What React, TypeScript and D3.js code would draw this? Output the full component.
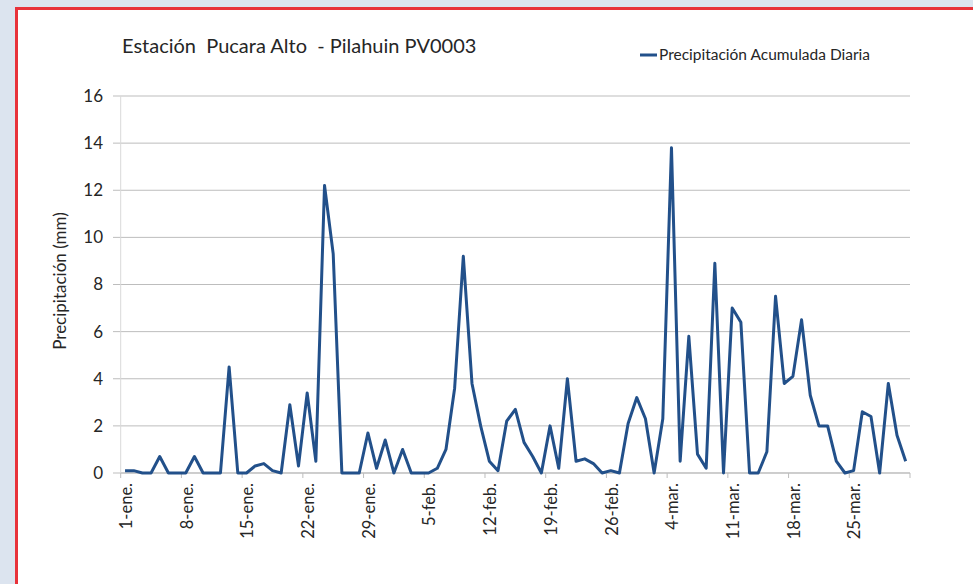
import * as d3 from "d3";

// daily precipitation (mm), 1-ene to 31-mar (2012, leap year)
const startDate = new Date(2012, 0, 1);
const endDate = new Date(2012, 3, 1);
const days = d3.timeDay.range(startDate, endDate);

const precipitation = [
  0.1, 0.1, 0, 0, 0.7, 0, 0, 0, 0.7, 0,
  0, 0, 4.5, 0, 0, 0.3, 0.4, 0.1, 0, 2.9,
  0.3, 3.4, 0.5, 12.2, 9.3, 0, 0, 0, 1.7, 0.2,
  1.4, 0, 1.0, 0, 0, 0, 0.2, 1.0, 3.6, 9.2,
  3.8, 2.0, 0.5, 0.1, 2.2, 2.7, 1.3, 0.7, 0, 2.0,
  0.2, 4.0, 0.5, 0.6, 0.4, 0, 0.1, 0, 2.1, 3.2,
  2.3, 0, 2.3, 13.8, 0.5, 5.8, 0.8, 0.2, 8.9, 0,
  7.0, 6.4, 0, 0, 0.9, 7.5, 3.8, 4.1, 6.5, 3.3,
  2.0, 2.0, 0.5, 0, 0.1, 2.6, 2.4, 0, 3.8, 1.6,
  0.5,
];

const tickLabels = [
  "1-ene.", "8-ene.", "15-ene.", "22-ene.", "29-ene.", "5-feb.", "12-feb.",
  "19-feb.", "26-feb.", "4-mar.", "11-mar.", "18-mar.", "25-mar.",
];
const yTicks = [0, 2, 4, 6, 8, 10, 12, 14, 16];

const title = "Estación  Pucara Alto  - Pilahuin PV0003";
const seriesName = "Precipitación Acumulada Diaria";
const yTitle = "Precipitación (mm)";

export default function App() {
  const width = 973;
  const height = 584;
  const font = "Lato, 'Open Sans', sans-serif";
  const lineColor = "#22508a";
  const gridColor = "#bdbdbd";
  const textColor = "#262626";

  const keys = days.map((d) => d3.timeFormat("%Y-%m-%d")(d));
  const data = keys.map((k, i) => ({ key: k, value: precipitation[i] }));

  const xScale = d3.scaleBand().domain(keys).range([120.7, 910]).padding(0);
  const yScale = d3.scaleLinear().domain([0, 16]).range([473, 96]);

  const cx = (k) => xScale(k) + xScale.bandwidth() / 2;

  const line = d3
    .line()
    .x((d) => cx(d.key))
    .y((d) => yScale(d.value));

  // tick marks every 7 days at band edges, plus the end of the axis
  const tickIdx = d3.range(0, keys.length, 7);

  return (
    <svg
      width={width}
      height={height}
      style={{ position: "absolute", left: 0, top: 0 }}
      fontFamily={font}
    >
      <rect x={0} y={0} width={width} height={height} fill="#dce4ef" />
      <rect x={16.5} y={8.5} width={1000} height={600} fill="#ffffff" stroke="#e8323a" strokeWidth={3} />

      {/* Title */}
      <text x={122} y={53} fontSize={20} fill={textColor} style={{ whiteSpace: "pre" }}>
        {title}
      </text>

      {/* Legend */}
      <line x1={640} x2={657} y1={55} y2={55} stroke={lineColor} strokeWidth={3} />
      <text x={659} y={60} fontSize={15.5} fill={textColor}>
        {seriesName}
      </text>

      {/* Gridlines + y labels */}
      {yTicks.map((t) => (
        <g key={t}>
          <line x1={113} x2={910} y1={yScale(t)} y2={yScale(t)} stroke={gridColor} strokeWidth={1} />
          <text x={103} y={yScale(t)} dy="0.35em" textAnchor="end" fontSize={17} fill={textColor}>
            {t}
          </text>
        </g>
      ))}

      {/* Y axis */}
      <line x1={120.7} x2={120.7} y1={96} y2={473} stroke="#d9d9d9" strokeWidth={1} />
      <text
        transform={`translate(60, 281) rotate(-90)`}
        textAnchor="middle"
        dy="0.35em"
        fontSize={17}
        fill={textColor}
      >
        {yTitle}
      </text>

      {/* X axis */}
      <line x1={120.7} x2={910} y1={473} y2={473} stroke={gridColor} strokeWidth={1} />
      {tickIdx.map((i) => (
        <line key={i} x1={xScale(keys[i])} x2={xScale(keys[i])} y1={473} y2={478} stroke={gridColor} />
      ))}
      <line x1={910} x2={910} y1={473} y2={478} stroke={gridColor} />
      {tickIdx.map((i, j) => (
        <text
          key={"l" + i}
          transform={`translate(${cx(keys[i]) + 1}, 483) rotate(-90)`}
          textAnchor="end"
          dy="0.35em"
          fontSize={16.5}
          fill={textColor}
        >
          {tickLabels[j]}
        </text>
      ))}

      {/* Series */}
      <path d={line(data)} fill="none" stroke={lineColor} strokeWidth={3} strokeLinejoin="round" />
    </svg>
  );
}
